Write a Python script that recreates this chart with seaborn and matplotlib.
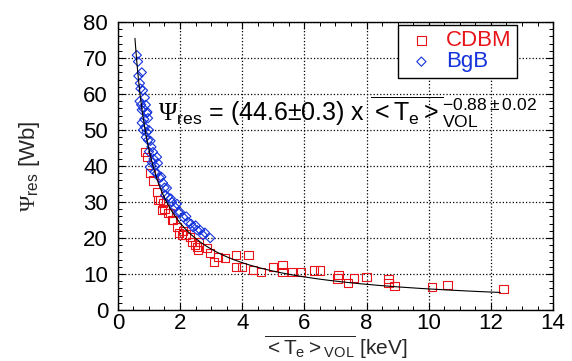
import numpy as np
import pandas as pd
import seaborn as sns
import matplotlib
matplotlib.use("Agg")
import matplotlib.pyplot as plt
from matplotlib.ticker import MultipleLocator

# ---- data ----
bgb_T = [0.61, 0.65, 0.77, 0.71, 0.81, 0.87, 0.77, 0.93, 0.97, 0.77, 0.87, 0.93, 0.97,
         1.08, 1.13, 1.26, 1.29, 1.26, 1.35, 1.45, 1.58, 1.61, 1.74, 1.84, 2.00, 2.10,
         2.26, 2.42, 2.65, 2.97, 2.74, 2.55, 1.94, 1.52, 1.19, 1.03, 0.81, 0.70, 0.75,
         0.82, 0.90, 0.95, 0.85, 1.00, 0.90, 1.05, 1.00, 1.15, 1.10, 1.20, 1.40, 1.50,
         1.70, 1.90, 2.20, 2.35, 2.50, 2.80, 0.66, 0.73]
bgb_psi = [70.8, 69.0, 66.0, 63.0, 61.0, 59.0, 55.6, 54.7, 53.3, 52.0, 50.8, 49.4, 47.2,
           45.3, 43.9, 42.5, 40.8, 38.0, 36.7, 35.3, 33.9, 31.4, 30.0, 28.6, 27.2, 25.8,
           24.4, 23.0, 22.2, 20.0, 20.8, 22.2, 27.2, 31.9, 38.3, 39.7, 50.0, 58.0, 57.0,
           56.0, 57.0, 55.0, 53.0, 50.0, 48.0, 47.0, 44.0, 42.0, 41.0, 40.0, 37.0, 34.0,
           31.0, 29.5, 26.0, 24.0, 23.5, 21.5, 65.0, 61.5]

cdbm_T = [0.87, 0.93, 1.05, 1.15, 1.26, 1.29, 1.35, 1.41, 1.45, 1.50, 1.61, 1.68, 1.74,
          1.77, 1.90, 1.97, 2.06, 2.10, 2.20, 2.32, 2.39, 2.48, 2.55, 2.58, 2.60, 2.87,
          2.97, 3.10, 3.23, 3.45, 3.80, 4.20, 3.80, 4.00, 4.35, 4.60, 5.00, 5.30, 5.30,
          5.60, 5.90, 6.30, 6.50, 7.10, 7.06, 7.40, 7.60, 8.00, 8.70, 8.70, 8.90, 10.1,
          10.6, 12.4]
cdbm_psi = [43.9, 42.5, 38.0, 36.0, 32.8, 30.6, 30.6, 27.8, 29.7, 28.0, 26.9, 26.9, 25.0,
            25.0, 23.0, 21.4, 20.8, 22.0, 21.0, 20.3, 19.0, 18.0, 17.5, 16.7, 19.0, 17.2,
            15.8, 13.3, 14.7, 14.4, 15.3, 15.3, 11.9, 11.9, 11.1, 10.5, 12.0, 12.6, 10.5,
            10.5, 10.6, 11.0, 11.0, 9.7, 8.8, 7.6, 9.0, 9.1, 8.7, 7.5, 6.6, 6.5,
            7.0, 5.8]

fit_coef = 44.6
fit_exp = -0.88
fit_T_min, fit_T_max = 0.55, 12.3

red = "#e8141a"
blue = "#1432dc"

sns.set_theme(style="ticks")
plt.rcParams["font.family"] = ["Liberation Sans", "DejaVu Sans"]
plt.rcParams["mathtext.fontset"] = "custom"
plt.rcParams["mathtext.rm"] = "Liberation Sans"
plt.rcParams["mathtext.it"] = "Liberation Sans"
plt.rcParams["mathtext.sf"] = "Liberation Serif"
plt.rcParams["mathtext.bf"] = "Liberation Sans:bold"

fig = plt.figure(figsize=(5.72, 3.61), dpi=100)
ax = fig.add_axes([0.206, 0.141, 0.761, 0.798])

cd = pd.DataFrame({"T": cdbm_T, "psi": cdbm_psi})
bg = pd.DataFrame({"T": bgb_T, "psi": bgb_psi})
fit_T = np.linspace(fit_T_min, fit_T_max, 200)
fit = pd.DataFrame({"T": fit_T, "psi": fit_coef * fit_T ** fit_exp})

sns.scatterplot(data=cd, x="T", y="psi", marker="s", s=36, color=red,
                facecolor="none", edgecolor=red, linewidth=0.8, ax=ax,
                label="CDBM", zorder=3)
sns.scatterplot(data=bg, x="T", y="psi", marker="D", s=22, color=blue,
                facecolor="none", edgecolor=blue, linewidth=0.8, ax=ax,
                label="BgB", zorder=4)
sns.lineplot(data=fit, x="T", y="psi", color="black", lw=0.8, ax=ax, zorder=5)

ax.set_xlim(0, 14)
ax.set_ylim(0, 80)
ax.xaxis.set_major_locator(MultipleLocator(2))
ax.xaxis.set_minor_locator(MultipleLocator(0.5))
ax.yaxis.set_major_locator(MultipleLocator(10))
ax.yaxis.set_minor_locator(MultipleLocator(2))
ax.grid(True, which="major", ls=":", color="black", lw=0.9)
ax.set_axisbelow(True)
ax.tick_params(which="both", direction="in", top=True, right=True, colors="black")
ax.tick_params(which="major", length=5, width=0.8, labelsize=16, pad=2)
ax.tick_params(axis="y", which="major", pad=7)
ax.tick_params(which="minor", length=3, width=0.7)
for sp in ax.spines.values():
    sp.set_color("black")
    sp.set_linewidth(1.0)

ax.set_xlabel(r"$\overline{<T_e>_{\rm VOL}}$ [keV]", fontsize=15, labelpad=0)
ax.set_ylabel(r"$\mathsf{\Psi}_{\rm res}$ [Wb]", fontsize=16)
ax.yaxis.set_label_coords(-0.175, 0.5)

ax.text(1.3, 55, r"$\mathsf{\Psi}_{\rm res}$ = (44.6±0.3) x $\overline{<T_e>}_{\rm VOL}^{-0.88\pm0.02}$",
        fontsize=18, va="center", ha="left", color="black", zorder=6)

leg = ax.legend(loc="upper right", bbox_to_anchor=(0.917, 0.99), fontsize=16,
                frameon=True, fancybox=False, edgecolor="black", framealpha=1,
                handlelength=1.6, handletextpad=0.3, borderpad=0.25, labelspacing=0.0,
                borderaxespad=0)
leg.get_frame().set_linewidth(1.0)
for t, c in zip(leg.get_texts(), [red, blue]):
    t.set_color(c)

fig.savefig("out.png", dpi=100)
